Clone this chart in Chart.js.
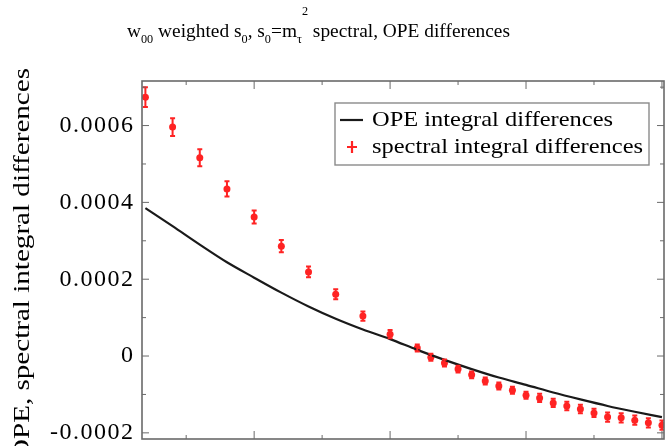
<!DOCTYPE html>
<html lang="en">
<head>
<meta charset="UTF-8">
<title>w00 weighted spectral, OPE differences</title>
<script src="https://cdn.jsdelivr.net/npm/chart.js"></script>
<style>
  html, body { margin: 0; padding: 0; background: #fff; }
  #wrap { width: 668px; height: 446px; }
</style>
</head>
<body>
<div id="wrap"><canvas id="diffChart" width="668" height="446"></canvas></div>
<script>
// values (x: s0 in GeV^2, y: integral differences)
const s0Spectral = [2.04, 2.08, 2.12, 2.16, 2.20, 2.24, 2.28, 2.32, 2.36, 2.40,
  2.44, 2.46, 2.48, 2.50, 2.52, 2.54, 2.56, 2.58, 2.60, 2.62,
  2.64, 2.66, 2.68, 2.70, 2.72, 2.74, 2.76, 2.78, 2.80];
const spectralDiff = [0.000674, 0.000596, 0.000516, 0.000435, 0.000362, 0.000286, 0.000219, 0.000161, 0.000104, 0.000057,
  0.000021, -0.000003, -0.000018, -0.000034, -0.000049, -0.000065, -0.000078, -0.000089, -0.000102, -0.000109,
  -0.000122, -0.000130, -0.000138, -0.000148, -0.000159, -0.000161, -0.000167, -0.000174, -0.000180];
const spectralErr = [0.000026, 0.000023, 0.000022, 0.000020, 0.000017, 0.000016, 0.000014, 0.000013, 0.000012, 0.000011,
  0.000009, 0.000009, 0.000009, 0.000009, 0.000009, 0.000009, 0.000009, 0.000009, 0.000009, 0.000011,
  0.000011, 0.000011, 0.000011, 0.000011, 0.000012, 0.000012, 0.000012, 0.000012, 0.000012];

const s0Ope = [2.04, 2.08, 2.12, 2.16, 2.20, 2.24, 2.28, 2.32, 2.36, 2.40,
  2.44, 2.48, 2.52, 2.56, 2.60, 2.64, 2.68, 2.72, 2.76, 2.80];
const opeDiff = [0.000385, 0.000338, 0.000290, 0.000244, 0.000204, 0.000165, 0.000129, 0.000097, 0.000069, 0.000044,
  0.000016, -0.000010, -0.000034, -0.000056, -0.000075, -0.000095, -0.000113, -0.000130, -0.000145, -0.000159];

const yMajor = [-0.0002, 0, 0.0002, 0.0004, 0.0006];
const yMinor = [-0.0001, 0.0001, 0.0003, 0.0005, 0.0007];
const xMajor = [2.2, 2.4, 2.6, 2.8];
const xMinor = [2.1, 2.3, 2.5, 2.7];

const FONT = "'Liberation Serif', 'Times New Roman', serif";
const RED = 'rgb(255, 35, 35)';
const AXIS = '#6a6a6a';

// draw text squeezed/stretched horizontally to a given width
function fitText(ctx, text, x, y, width) {
  const w = ctx.measureText(text).width;
  ctx.save();
  ctx.translate(x, y);
  ctx.scale(width / w, 1);
  ctx.fillText(text, 0, 0);
  ctx.restore();
}

const decorations = {
  id: 'decorations',
  beforeDraw(chart) {
    chart.ctx.letterSpacing = '1.5px';   // wide tick labels like the original
  },
  beforeDatasetsDraw(chart) {
    chart.ctx.letterSpacing = '0px';
  },
  afterDatasetsDraw(chart) {
    const ctx = chart.ctx, a = chart.chartArea;
    const xs = chart.scales.x, ys = chart.scales.y;
    ctx.save();
    ctx.beginPath();
    ctx.rect(a.left, a.top, a.right - a.left, a.bottom - a.top);
    ctx.clip();
    ctx.strokeStyle = RED;
    ctx.lineWidth = 2;
    s0Spectral.forEach((s, i) => {
      const px = xs.getPixelForValue(s);
      const top = ys.getPixelForValue(spectralDiff[i] + spectralErr[i]);
      const bot = ys.getPixelForValue(spectralDiff[i] - spectralErr[i]);
      ctx.beginPath();
      ctx.moveTo(px, top); ctx.lineTo(px, bot);
      ctx.moveTo(px - 2.5, top); ctx.lineTo(px + 2.5, top);
      ctx.moveTo(px - 2.5, bot); ctx.lineTo(px + 2.5, bot);
      ctx.stroke();
    });
    ctx.restore();
  },
  afterDraw(chart) {
    const ctx = chart.ctx, a = chart.chartArea;
    const xs = chart.scales.x, ys = chart.scales.y;
    ctx.save();

    // frame
    ctx.strokeStyle = AXIS;
    ctx.lineWidth = 1.6;
    ctx.strokeRect(a.left, a.top, a.right - a.left, a.bottom - a.top);

    // inward ticks on all four sides
    ctx.lineWidth = 1;
    ctx.beginPath();
    const yTick = (v, len) => {
      const py = ys.getPixelForValue(v);
      ctx.moveTo(a.left, py); ctx.lineTo(a.left + len, py);
      ctx.moveTo(a.right, py); ctx.lineTo(a.right - len, py);
    };
    const xTick = (v, len) => {
      const px = xs.getPixelForValue(v);
      ctx.moveTo(px, a.top); ctx.lineTo(px, a.top + len);
      ctx.moveTo(px, a.bottom); ctx.lineTo(px, a.bottom - len);
    };
    yMajor.forEach(v => yTick(v, 7));
    yMinor.forEach(v => yTick(v, 4));
    xMajor.forEach(v => xTick(v, 8));
    xMinor.forEach(v => xTick(v, 4));
    ctx.stroke();

    // legend
    ctx.fillStyle = '#fff';
    ctx.fillRect(335, 103, 314, 62);
    ctx.strokeStyle = '#8a8a8a';
    ctx.lineWidth = 1.4;
    ctx.strokeRect(335, 103, 314, 62);
    const ds = chart.data.datasets;
    ctx.strokeStyle = ds[0].borderColor;
    ctx.lineWidth = 2.2;
    ctx.beginPath(); ctx.moveTo(340, 120); ctx.lineTo(363, 120); ctx.stroke();
    ctx.strokeStyle = RED;
    ctx.lineWidth = 2.2;
    ctx.beginPath();
    ctx.moveTo(352, 141); ctx.lineTo(352, 153);
    ctx.moveTo(347, 147); ctx.lineTo(357, 147);
    ctx.stroke();
    ctx.fillStyle = '#000';
    ctx.font = '22px ' + FONT;
    ctx.textBaseline = 'middle';
    ctx.textAlign = 'left';
    fitText(ctx, ds[0].label, 372, 120, 241);
    fitText(ctx, ds[1].label, 372, 147, 271);

    // y axis title, rotated, running off the bottom edge
    ctx.save();
    ctx.translate(23, 68);
    ctx.rotate(-Math.PI / 2);
    ctx.textAlign = 'right';
    ctx.textBaseline = 'middle';
    ctx.font = '24px ' + FONT;
    const yt = 'OPE, spectral integral differences';
    const ytw = ctx.measureText(yt).width;
    ctx.scale(392 / ytw, 1);
    ctx.fillText(yt, 0, 0);
    ctx.restore();

    // title with sub- and superscripts
    const parts = [
      { t: 'w' }, { t: '00', sub: true }, { t: ' weighted s' }, { t: '0', sub: true },
      { t: ', s' }, { t: '0', sub: true }, { t: '=m' }, { t: '\u03c4', sub: true },
      { t: '2', sup: true }, { t: ' spectral, OPE differences' }
    ];
    const mainFont = '19px ' + FONT, smallFont = '12px ' + FONT;
    let total = 0;
    parts.forEach(p => {
      ctx.font = (p.sub || p.sup) ? smallFont : mainFont;
      p.w = ctx.measureText(p.t).width;
      total += p.w;
    });
    ctx.save();
    ctx.translate(127, 37);
    ctx.scale(383 / total, 1);
    ctx.textAlign = 'left';
    ctx.textBaseline = 'alphabetic';
    let cx = 0;
    parts.forEach(p => {
      ctx.font = (p.sub || p.sup) ? smallFont : mainFont;
      const dy = p.sub ? 6 : (p.sup ? -22 : 0);
      ctx.fillText(p.t, cx, dy);
      cx += p.w;
    });
    ctx.restore();

    ctx.restore();
  }
};

const ctx = document.getElementById('diffChart').getContext('2d');
const diffChart = new Chart(ctx, {
  type: 'line',
  data: {
    datasets: [{
      label: 'OPE integral differences',
      data: s0Ope.map((s, i) => ({ x: s, y: opeDiff[i] })),
      borderColor: '#1a1a1a',
      borderWidth: 2.2,
      pointRadius: 0,
      cubicInterpolationMode: 'monotone',
      fill: false
    }, {
      label: 'spectral integral differences',
      data: s0Spectral.map((s, i) => ({ x: s, y: spectralDiff[i] })),
      showLine: false,
      pointRadius: 3.5,
      pointBorderWidth: 0,
      pointBackgroundColor: RED,
      borderColor: RED
    }]
  },
  options: {
    responsive: false,
    animation: false,
    layout: { padding: { top: 81, bottom: 7, left: 0, right: 0 } },
    plugins: {
      legend: { display: false },
      tooltip: { enabled: false },
      title: { display: false }
    },
    scales: {
      x: { type: 'linear', display: false, min: 2.035, max: 2.803 },
      y: {
        min: -0.000216,
        max: 0.000716,
        grid: { display: false, drawTicks: false, tickLength: 0 },
        border: { display: false },
        ticks: {
          padding: 7.5,
          color: '#000',
          font: { family: FONT, size: 24 },
          callback: v => v === 0 ? '0' : v.toFixed(4)
        },
        afterBuildTicks: s => { s.ticks = yMajor.map(v => ({ value: v })); },
        afterFit: s => { s.width = 142; s.paddingTop = 0; s.paddingBottom = 0; }
      }
    }
  },
  plugins: [decorations]
});
</script>
</body>
</html>
